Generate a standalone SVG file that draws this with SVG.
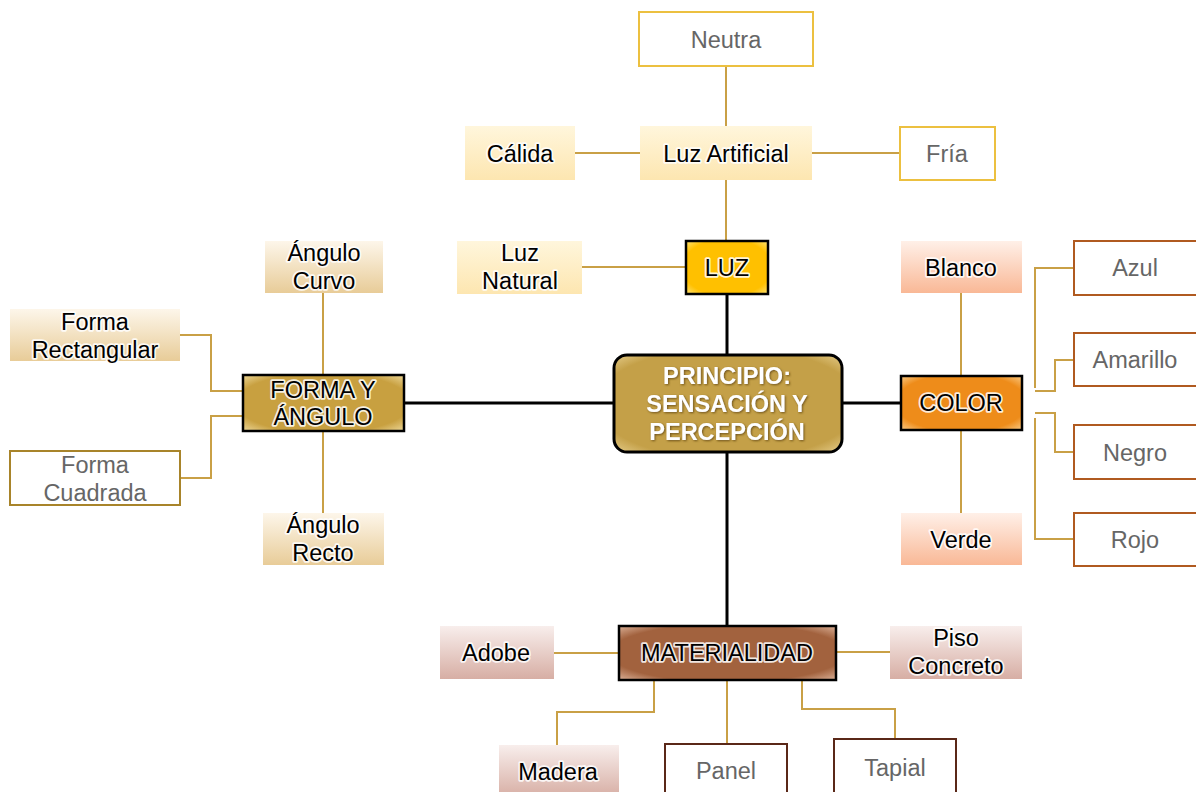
<svg xmlns="http://www.w3.org/2000/svg" width="1196" height="792" viewBox="0 0 1196 792">
<defs>
<linearGradient id="gCream" x1="0" y1="0" x2="0" y2="1"><stop offset="0" stop-color="#fff6dc"/><stop offset="1" stop-color="#fde6b0"/></linearGradient>
<linearGradient id="gTan" x1="0" y1="0" x2="0" y2="1"><stop offset="0" stop-color="#fdf6ea"/><stop offset="1" stop-color="#e8cc98"/></linearGradient>
<linearGradient id="gPeach" x1="0" y1="0" x2="0" y2="1"><stop offset="0" stop-color="#fff0e8"/><stop offset="1" stop-color="#f9b896"/></linearGradient>
<linearGradient id="gRose" x1="0" y1="0" x2="0" y2="1"><stop offset="0" stop-color="#f8eeec"/><stop offset="1" stop-color="#d7aea4"/></linearGradient>
<radialGradient id="gLuz" cx="0.5" cy="0.5" r="0.72"><stop offset="0.75" stop-color="#ffc000"/><stop offset="1" stop-color="#ffe680"/></radialGradient>
<radialGradient id="gForma" cx="0.5" cy="0.5" r="0.72"><stop offset="0.75" stop-color="#c8a040"/><stop offset="1" stop-color="#f0dca0"/></radialGradient>
<radialGradient id="gColor" cx="0.5" cy="0.5" r="0.72"><stop offset="0.75" stop-color="#ee8c1a"/><stop offset="1" stop-color="#fbd090"/></radialGradient>
<radialGradient id="gMat" cx="0.5" cy="0.5" r="0.72"><stop offset="0.75" stop-color="#a2623e"/><stop offset="1" stop-color="#e0b8a0"/></radialGradient>
<radialGradient id="gMain" cx="0.5" cy="0.5" r="0.72"><stop offset="0.8" stop-color="#c4a048"/><stop offset="1" stop-color="#e8d090"/></radialGradient>
<filter id="shadow" x="-10%" y="-30%" width="120%" height="160%">
<feGaussianBlur in="SourceAlpha" stdDeviation="1.2" result="b"/>
<feOffset dx="1" dy="1" in="b" result="o"/>
<feFlood flood-color="#5a4010" flood-opacity="0.8"/>
<feComposite in2="o" operator="in" result="s"/>
<feMerge><feMergeNode in="s"/><feMergeNode in="SourceGraphic"/></feMerge>
</filter>
</defs>
<style>
text{font-family:"Liberation Sans",Arial,sans-serif;font-size:23.5px;text-anchor:middle;dominant-baseline:central}
.dark{fill:#000;stroke:#fff;stroke-width:3.5;stroke-opacity:0.85;stroke-linejoin:round;paint-order:stroke}
.grey{fill:#666}
.main{fill:#fff;font-weight:bold;filter:url(#shadow)}
.lg{fill:none;stroke:#c9a046;stroke-width:2}
.lb{fill:none;stroke:#000;stroke-width:3}
.hub{stroke:#000;stroke-width:2.5}
.wy{fill:#fff;stroke:#ecc040;stroke-width:2}
.wb{fill:#fff;stroke:#a8842a;stroke-width:2}
.wo{fill:#fff;stroke:#b05a20;stroke-width:2}
.wd{fill:#fff;stroke:#5a2818;stroke-width:2}
</style>
<g id="connectors">
<path class="lb" d="M727 294V355M404 403H614M842 403H901M727 452V626"/>
<path class="lg" d="M726 66V126M726 180V241M575 153H640M812 153H900M582 267H686"/>
<path class="lg" d="M323 293V375M323 431V513M180 335H211V391H243M180 478H211V416H243"/>
<path class="lg" d="M961 293V376M961 430V513M1074 268H1035V388M1074 360H1055V391H1035M1074 452H1055V413H1035M1074 539H1035V418"/>
<path class="lg" d="M554 653H619M836 652H890M654 680V712H557V745M727 680V744M802 680V709H895V739"/>
</g>
<g id="principio"><rect x="614" y="355" width="228" height="97" rx="13" fill="url(#gMain)" stroke="#000" stroke-width="3"/>
<text class="main" x="727" y="376">PRINCIPIO:</text><text class="main" x="727" y="404">SENSACIÓN Y</text><text class="main" x="727" y="432">PERCEPCIÓN</text></g>
<g id="luz"><rect class="hub" x="686" y="241" width="82" height="53" fill="url(#gLuz)"/><text class="dark" x="727" y="268">LUZ</text></g>
<g id="luz-artificial"><rect x="640" y="126" width="172" height="54" fill="url(#gCream)"/><text class="dark" x="726" y="154">Luz Artificial</text></g>
<g id="calida"><rect x="465" y="126" width="110" height="54" fill="url(#gCream)"/><text class="dark" x="520" y="154">Cálida</text></g>
<g id="fria"><rect class="wy" x="900" y="127" width="95" height="53"/><text class="grey" x="947" y="154">Fría</text></g>
<g id="neutra"><rect class="wy" x="639" y="12" width="174" height="54"/><text class="grey" x="726" y="40">Neutra</text></g>
<g id="luz-natural"><rect x="457" y="241" width="125" height="53" fill="url(#gCream)"/><text class="dark" x="520" y="253">Luz</text><text class="dark" x="520" y="281">Natural</text></g>
<g id="forma"><rect class="hub" x="243" y="375" width="161" height="56" fill="url(#gForma)"/><text class="dark" x="323" y="390">FORMA Y</text><text class="dark" x="323" y="417">ÁNGULO</text></g>
<g id="angulo-curvo"><rect x="265" y="241" width="118" height="52" fill="url(#gTan)"/><text class="dark" x="324" y="253">Ángulo</text><text class="dark" x="324" y="281">Curvo</text></g>
<g id="forma-rect"><rect x="10" y="309" width="170" height="52" fill="url(#gTan)"/><text class="dark" x="95" y="322">Forma</text><text class="dark" x="95" y="350">Rectangular</text></g>
<g id="forma-cuad"><rect class="wb" x="10" y="451" width="170" height="54"/><text class="grey" x="95" y="465">Forma</text><text class="grey" x="95" y="493">Cuadrada</text></g>
<g id="angulo-recto"><rect x="263" y="513" width="121" height="52" fill="url(#gTan)"/><text class="dark" x="323" y="525">Ángulo</text><text class="dark" x="323" y="553">Recto</text></g>
<g id="color"><rect class="hub" x="901" y="376" width="121" height="54" fill="url(#gColor)"/><text class="dark" x="961" y="403">COLOR</text></g>
<g id="blanco"><rect x="901" y="241" width="121" height="52" fill="url(#gPeach)"/><text class="dark" x="961" y="268">Blanco</text></g>
<g id="verde"><rect x="901" y="513" width="121" height="52" fill="url(#gPeach)"/><text class="dark" x="961" y="540">Verde</text></g>
<g id="azul"><rect class="wo" x="1074" y="241" width="130" height="54"/><text class="grey" x="1135" y="268">Azul</text></g>
<g id="amarillo"><rect class="wo" x="1074" y="333" width="130" height="53"/><text class="grey" x="1135" y="360">Amarillo</text></g>
<g id="negro"><rect class="wo" x="1074" y="425" width="130" height="54"/><text class="grey" x="1135" y="453">Negro</text></g>
<g id="rojo"><rect class="wo" x="1074" y="513" width="130" height="53"/><text class="grey" x="1135" y="540">Rojo</text></g>
<g id="materialidad"><rect class="hub" x="619" y="626" width="217" height="54" fill="url(#gMat)"/><text class="dark" x="727" y="653">MATERIALIDAD</text></g>
<g id="adobe"><rect x="440" y="626" width="114" height="53" fill="url(#gRose)"/><text class="dark" x="496" y="653">Adobe</text></g>
<g id="piso"><rect x="890" y="626" width="132" height="53" fill="url(#gRose)"/><text class="dark" x="956" y="638">Piso</text><text class="dark" x="956" y="666">Concreto</text></g>
<g id="madera"><rect x="499" y="745" width="120" height="52" fill="url(#gRose)"/><text class="dark" x="558" y="772">Madera</text></g>
<g id="panel"><rect class="wd" x="665" y="744" width="122" height="54"/><text class="grey" x="726" y="771">Panel</text></g>
<g id="tapial"><rect class="wd" x="834" y="739" width="122" height="58"/><text class="grey" x="895" y="768">Tapial</text></g>
</svg>
